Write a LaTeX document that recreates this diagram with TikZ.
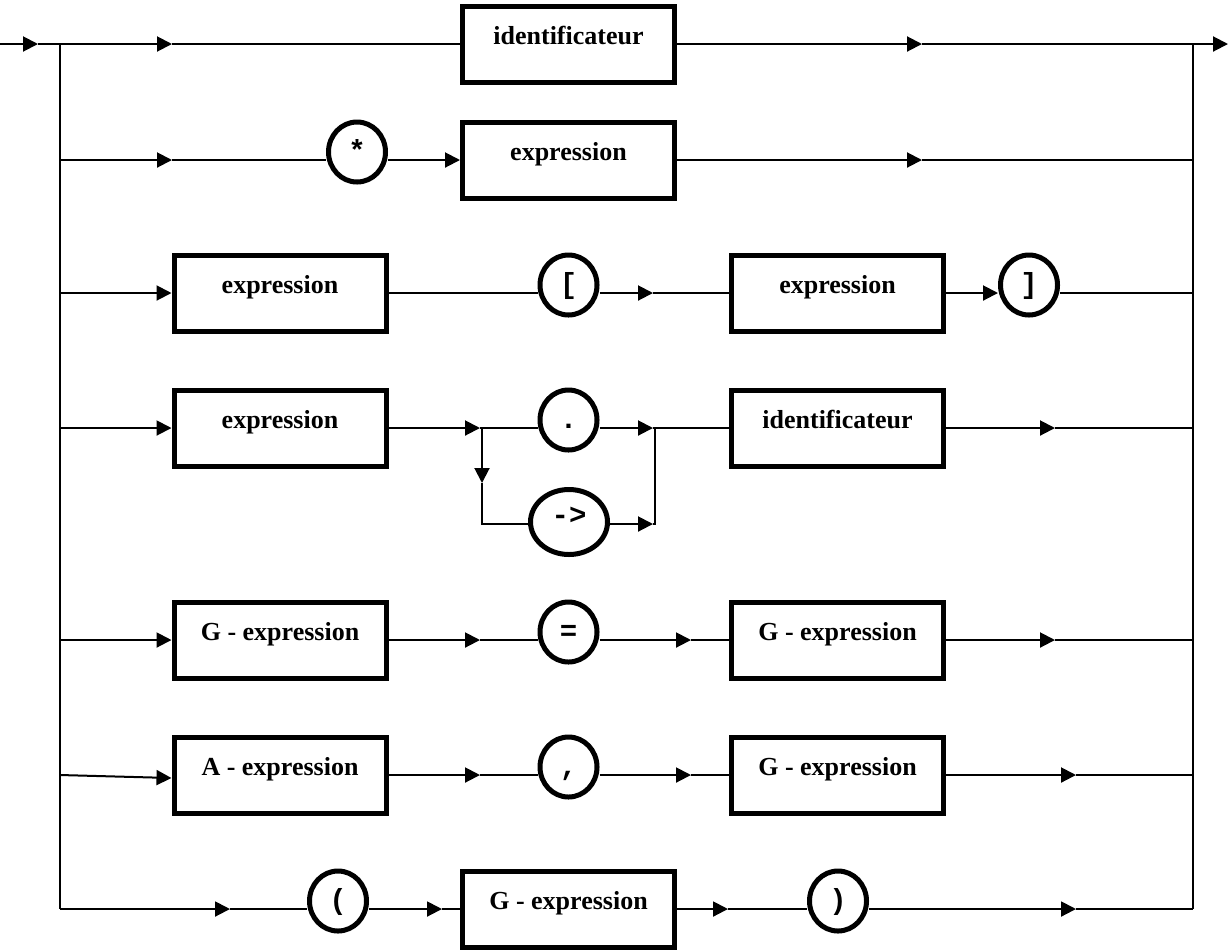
\documentclass[tikz,border=0pt]{standalone}
\usepackage{fontspec}
\setmainfont{Liberation Serif}
\newfontfamily\symfont{Liberation Mono}
\usetikzlibrary{arrows.meta,shapes.geometric}

\tikzset{
  nonterm/.style={draw, line width=2.5pt, rectangle, inner sep=0pt, minimum width=106pt,
    text height=19pt, text depth=19pt, anchor=base, font=\fontsize{13}{15}\selectfont\bfseries},
  term/.style={draw, line width=2.5pt, ellipse, inner sep=0pt, minimum width=28.5pt, minimum height=30pt,
    text height=8pt, text depth=0pt, anchor=base, font=\symfont\fontsize{14.5}{16}\selectfont\bfseries},
  flow/.style={-{Triangle[length=7.5pt,width=7.5pt]}}
}

\begin{document}
\begin{tikzpicture}[x=0.5pt, y=-0.5pt, line width=1pt]
\useasboundingbox (0,0) rectangle (1229,949);

\foreach \i/\y in {1/44,2/160,3/293,4/428,5/640,6/775,7/909} {
  \coordinate (l\i) at (60,\y);
  \coordinate (r\i) at (1193,\y);
}
\coordinate (in) at (0,44);
\coordinate (out) at (1228,44);

\node[nonterm] (id1) at (568.5,44) {identificateur};

\node[term] (star) at (357,160) {*};
\node[nonterm] (ex2) at (568.5,160) {expression};

\node[nonterm] (ex3) at (280,293) {expression};
\node[term] (lbr) at (568.5,293) {[};
\node[nonterm] (ex3b) at (837.5,293) {expression};
\node[term] (rbr) at (1029,293) {]};

\node[nonterm] (ex4) at (280,428) {expression};
\node[term] (dot) at (568.5,428) {.};
\node[term, minimum width=38.5pt, minimum height=32.5pt, text height=4pt, text depth=2pt] (arr) at (569,524) {->};
\node[nonterm] (id4) at (837.5,428) {identificateur};

\node[nonterm] (g5) at (280,640) {G - expression};
\node[term] (eq) at (568.5,640) {=};
\node[nonterm] (g5b) at (837.5,640) {G - expression};

\node[nonterm] (a6) at (280,775) {A - expression};
\node[term] (comma) at (568.5,775) {,};
\node[nonterm] (g6) at (837.5,775) {G - expression};

\node[term] (lpar) at (338,909) {(};
\node[nonterm] (g7) at (568.5,909) {G - expression};
\node[term] (rpar) at (838,909) {)};

\coordinate (a10) at (38,44);
\coordinate (a11) at (172,44);
\coordinate (a12) at (922,44);
\coordinate (a21) at (172,160);
\coordinate (a22) at (922,160);
\coordinate (a31) at (653,293);
\coordinate (a41) at (480,428);
\coordinate (s4) at (482,428);
\coordinate (a42) at (482,483);
\coordinate (s4b) at (482,524);
\coordinate (a43) at (653,428);
\coordinate (a44) at (653,524);
\coordinate (j4) at (655,428);
\coordinate (j4b) at (655,524);
\coordinate (a45) at (1055,428);
\coordinate (a51) at (480,640);
\coordinate (a52) at (691,640);
\coordinate (a53) at (1055,640);
\coordinate (a61) at (480,775);
\coordinate (a62) at (691,775);
\coordinate (a63) at (1076,775);
\coordinate (a71) at (230,909);
\coordinate (a72) at (442,909);
\coordinate (a73) at (728,909);
\coordinate (a74) at (1076,909);

\draw (l1) -- (l7);
\draw (r1) -- (r7);

\draw[flow] (in) -- (a10);
\draw (a10) -- (l1);
\draw[flow] (l1) -- (a11);
\draw (a11) -- (id1);
\draw[flow] (id1) -- (a12);
\draw (a12) -- (r1);
\draw[flow] (r1) -- (out);

\draw[flow] (l2) -- (a21);
\draw (a21) -- (star.west |- l2);
\draw[flow] (star.east |- l2) -- (ex2);
\draw[flow] (ex2) -- (a22);
\draw (a22) -- (r2);

\draw[flow] (l3) -- (ex3);
\draw (ex3) -- (lbr.west |- l3);
\draw[flow] (lbr.east |- l3) -- (a31);
\draw (a31) -- (ex3b);
\draw[flow] (ex3b) -- (rbr.west |- l3);
\draw (rbr.east |- l3) -- (r3);

\draw[flow] (l4) -- (ex4);
\draw[flow] (ex4) -- (a41);
\draw (a41) -- (dot.west |- l4);
\draw[flow] (s4) -- (a42);
\draw (a42) -- (s4b) -- (arr.west |- s4b);
\draw[flow] (dot.east |- l4) -- (a43);
\draw[flow] (arr.east |- s4b) -- (a44);
\draw (a44) -- (j4b) -- (j4);
\draw (a43) -- (id4);
\draw[flow] (id4) -- (a45);
\draw (a45) -- (r4);

\draw[flow] (l5) -- (g5);
\draw[flow] (g5) -- (a51);
\draw (a51) -- (eq.west |- l5);
\draw[flow] (eq.east |- l5) -- (a52);
\draw (a52) -- (g5b);
\draw[flow] (g5b) -- (a53);
\draw (a53) -- (r5);

\draw[flow] (l6) -- ([yshift=-1.5pt]a6.west);
\draw[flow] (a6) -- (a61);
\draw (a61) -- (comma.west |- l6);
\draw[flow] (comma.east |- l6) -- (a62);
\draw (a62) -- (g6);
\draw[flow] (g6) -- (a63);
\draw (a63) -- (r6);

\draw[flow] (l7) -- (a71);
\draw (a71) -- (lpar.west |- l7);
\draw[flow] (lpar.east |- l7) -- (a72);
\draw (a72) -- (g7);
\draw[flow] (g7) -- (a73);
\draw (a73) -- (rpar.west |- l7);
\draw[flow] (rpar.east |- l7) -- (a74);
\draw (a74) -- (r7);
\end{tikzpicture}
\end{document}
